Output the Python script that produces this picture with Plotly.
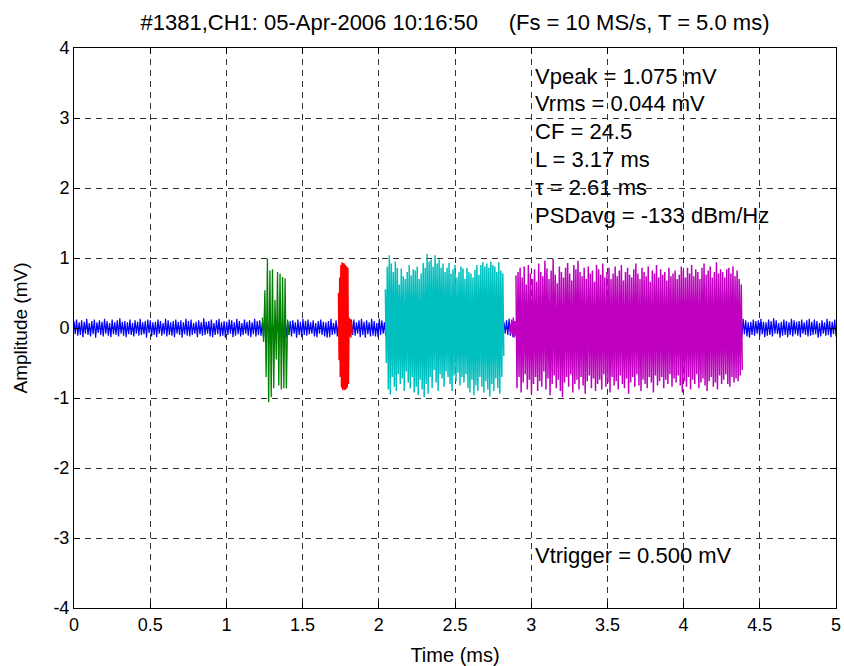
import numpy as np
import plotly.graph_objects as go

# ---------------- data ----------------
TITLE = "#1381,CH1: 05-Apr-2006 10:16:50\u00a0\u00a0\u00a0\u00a0\u00a0(Fs = 10 MS/s, T = 5.0 ms)"
x_ticks = [0, 0.5, 1, 1.5, 2, 2.5, 3, 3.5, 4, 4.5, 5]
y_ticks = [-4, -3, -2, -1, 0, 1, 2, 3, 4]

stats_lines = ["Vpeak = 1.075 mV", "Vrms = 0.044 mV", "CF = 24.5",
               "L = 3.17 ms", "\u03c4 = 2.61 ms", "PSDavg = -133 dBm/Hz"]
stats_y = [3.60, 3.21, 2.81, 2.41, 2.01, 1.61]
stats_x = 3.0
trigger_text = "Vtrigger = 0.500 mV"
trigger_y = -3.25

# background noise (whole record, blue): successive positive / negative excursions (mV)
blue_peaks = [0.10,0.12,0.08,0.11,0.09,0.13,0.07,0.10,0.12,0.08,
              0.11,0.09,0.13,0.10,0.07,0.12,0.08,0.11,0.14,0.09,
              0.10,0.08,0.12,0.07,0.11,0.09,0.13,0.08,0.10,0.12,
              0.11,0.08,0.09,0.12,0.10,0.07,0.13,0.11,0.08,0.10,
              0.12,0.09,0.11,0.08,0.13,0.10,0.12,0.07,0.09,0.11,
              0.08,0.14,0.09,0.10,0.12,0.07,0.11,0.13,0.08,0.10,
              0.09,0.12,0.11,0.08,0.13,0.10,0.07,0.12,0.09,0.11,
              0.08,0.13,0.10,0.11,0.08,0.12,0.09,0.14,0.07,0.12,
              0.10,0.11,0.08,0.13,0.09,0.10,0.11,0.08,0.12,0.09,
              0.13,0.10,0.12,0.08,0.11,0.07,0.10,0.12,0.09,0.08,
              0.10,0.13,0.07,0.11,0.08,0.14,0.11,0.08,0.10,0.12,
              0.12,0.08,0.11,0.13,0.09,0.11,0.08,0.13,0.10,0.07,
              0.13,0.11,0.08,0.10,0.12,0.09,0.11,0.12,0.10,0.14,
              0.09,0.07,0.10,0.13,0.08,0.07,0.12,0.08,0.13,0.10,
              0.11,0.12,0.10,0.09,0.14,0.08,0.11,0.12,0.09,0.14,
              0.09,0.11,0.13,0.08,0.10,0.12,0.07,0.11,0.09,0.14,
              0.10,0.08,0.12,0.11,0.09,0.13,0.10,0.07,0.12,0.08,
              0.11,0.13,0.09,0.10,0.08,0.12,0.11,0.14,0.09,0.10,
              0.12,0.07,0.11,0.09,0.13,0.08,0.10,0.12,0.11,0.09,
              0.08,0.13,0.10,0.12,0.07,0.11,0.09,0.10,0.14,0.08,
              0.12,0.10,0.09,0.11,0.13,0.08,0.10,0.07,0.12,0.11,
              0.09,0.14,0.10,0.08,0.12,0.11,0.13,0.09,0.10,0.07,
              0.11,0.08,0.12,0.10,0.09,0.13,0.11,0.08,0.10,0.12,
              0.14,0.09,0.07,0.11,0.10,0.12,0.08,0.13,0.09,0.11,
              0.10,0.12,0.08,0.09,0.13,0.07,0.11,0.10,0.12,0.14,
              0.08,0.10,0.11,0.09,0.12,0.13,0.10,0.08,0.11,0.09,
              0.12,0.07,0.10,0.13,0.11,0.08,0.09,0.12,0.10,0.11,
              0.13,0.09,0.08,0.12,0.10,0.14,0.11,0.07,0.09,0.12,
              0.10,0.08,0.13,0.11,0.09,0.10,0.12,0.08,0.11,0.13,
              0.09,0.12,0.10,0.07,0.11,0.08,0.13,0.10,0.09,0.12]
blue_troughs = [-0.09,-0.11,-0.10,-0.13,-0.08,-0.10,-0.12,-0.09,-0.14,-0.07,
                -0.10,-0.12,-0.08,-0.11,-0.13,-0.09,-0.10,-0.12,-0.08,-0.11,
                -0.13,-0.09,-0.10,-0.12,-0.08,-0.11,-0.10,-0.09,-0.14,-0.07,
                -0.12,-0.10,-0.13,-0.08,-0.11,-0.09,-0.12,-0.10,-0.11,-0.13,
                -0.08,-0.10,-0.14,-0.09,-0.11,-0.12,-0.10,-0.08,-0.13,-0.09,
                -0.11,-0.10,-0.08,-0.12,-0.13,-0.10,-0.09,-0.12,-0.11,-0.14,
                -0.10,-0.08,-0.13,-0.11,-0.09,-0.12,-0.10,-0.08,-0.11,-0.13,
                -0.09,-0.12,-0.10,-0.11,-0.14,-0.10,-0.09,-0.12,-0.08,-0.11,
                -0.12,-0.09,-0.11,-0.13,-0.10,-0.12,-0.08,-0.14,-0.10,-0.13,
                -0.10,-0.11,-0.09,-0.08,-0.12,-0.13,-0.08,-0.10,-0.12,-0.14,
                -0.13,-0.10,-0.09,-0.12,-0.08,-0.11,-0.10,-0.14,-0.09,-0.10,
                -0.11,-0.08,-0.13,-0.10,-0.14,-0.09,-0.12,-0.11,-0.12,-0.13,
                -0.10,-0.08,-0.12,-0.09,-0.11,-0.10,-0.13,-0.14,-0.09,-0.11,
                -0.08,-0.10,-0.12,-0.11,-0.09,-0.12,-0.13,-0.11,-0.10,-0.09,
                -0.12,-0.08,-0.11,-0.12,-0.13,-0.08,-0.12,-0.11,-0.10,-0.12,
                -0.11,-0.09,-0.12,-0.10,-0.13,-0.08,-0.11,-0.14,-0.10,-0.09,
                -0.12,-0.10,-0.08,-0.13,-0.11,-0.09,-0.12,-0.10,-0.14,-0.08,
                -0.10,-0.11,-0.13,-0.09,-0.12,-0.10,-0.08,-0.11,-0.13,-0.10,
                -0.09,-0.12,-0.14,-0.11,-0.08,-0.10,-0.13,-0.09,-0.12,-0.11,
                -0.10,-0.08,-0.12,-0.13,-0.09,-0.11,-0.10,-0.14,-0.08,-0.12,
                -0.11,-0.09,-0.13,-0.10,-0.12,-0.08,-0.11,-0.10,-0.09,-0.13,
                -0.12,-0.10,-0.08,-0.14,-0.11,-0.09,-0.12,-0.10,-0.13,-0.11,
                -0.09,-0.12,-0.10,-0.08,-0.13,-0.11,-0.14,-0.09,-0.10,-0.12,
                -0.08,-0.11,-0.13,-0.10,-0.09,-0.12,-0.11,-0.08,-0.14,-0.10,
                -0.12,-0.09,-0.11,-0.13,-0.10,-0.08,-0.12,-0.11,-0.09,-0.13,
                -0.10,-0.14,-0.08,-0.12,-0.11,-0.09,-0.10,-0.13,-0.12,-0.08,
                -0.11,-0.10,-0.13,-0.09,-0.12,-0.14,-0.10,-0.11,-0.08,-0.12,
                -0.09,-0.13,-0.11,-0.10,-0.12,-0.08,-0.09,-0.14,-0.11,-0.10,
                -0.13,-0.10,-0.12,-0.09,-0.11,-0.13,-0.08,-0.10,-0.12,-0.11,
                -0.10,-0.09,-0.14,-0.12,-0.08,-0.11,-0.10,-0.13,-0.09,-0.12]
blue_span = (0.0, 5.0)

# burst 1 (green)
green_peaks = [0.15, 0.54, 0.99, 0.82, 0.84, 0.40, 0.80, 0.78, 0.73, 0.71, 0.12]
green_troughs = [-0.20, -0.70, -1.06, -0.99, -0.86, -0.45, -0.82, -0.88, -0.86, -0.86, -0.10]
green_span = (1.236, 1.41)

# burst 2 (red)
red_peaks = [0.50, 0.72, 0.90, 0.94, 0.93, 0.92, 0.90, 0.88, 0.86, 0.15, 0.13, 0.10]
red_troughs = [-0.46, -0.70, -0.85, -0.89, -0.88, -0.89, -0.87, -0.85, -0.80, -0.12, -0.14, -0.08]
red_span = (1.735, 1.825)

# burst 3 (cyan)
cyan_peaks = [0.55,0.88,1.04,0.92,0.80,0.95,0.86,0.62,0.85,0.74,
              0.70,0.80,0.90,0.75,0.84,0.82,0.88,0.70,0.78,0.93,
              0.86,1.06,0.95,0.98,0.88,1.04,0.92,0.98,0.86,0.92,
              0.80,0.86,0.93,0.78,0.84,0.90,0.72,0.80,0.88,0.85,
              0.70,0.86,0.80,0.78,0.72,0.83,0.90,0.76,0.90,0.94,
              0.88,0.92,0.86,0.95,0.90,0.88,0.80,0.94,0.82,0.78]
cyan_troughs = [-0.50,-0.88,-0.95,-0.70,-0.84,-0.90,-0.66,-0.80,-0.72,-0.90,
                -0.62,-0.78,-0.86,-0.70,-0.92,-0.84,-0.96,-0.74,-0.88,-0.99,
                -0.80,-0.94,-0.70,-0.86,-0.60,-0.78,-0.90,-0.66,-0.72,-0.84,
                -0.62,-0.70,-0.80,-0.90,-0.68,-0.76,-0.64,-0.82,-0.70,-0.78,
                -0.66,-0.86,-0.92,-0.74,-0.96,-0.82,-0.90,-0.70,-0.84,-0.92,
                -0.76,-0.88,-0.98,-0.80,-0.90,-0.72,-0.86,-0.94,-0.70,-0.40]
cyan_span = (2.043, 2.82)

# burst 4 (magenta): low-level lead-in, then main burst
magenta_lead_peaks = [0.05, 0.12, 0.15, 0.10]
magenta_lead_troughs = [-0.08, -0.10, -0.14, -0.12]
magenta_lead_span = (2.86, 2.90)
magenta_peaks = [0.75,0.80,0.86,0.72,0.88,0.62,0.90,0.78,0.70,0.84,
                 0.66,0.92,0.80,0.74,0.96,0.85,0.70,0.82,0.99,0.76,
                 0.64,0.88,0.80,0.72,0.86,0.93,0.78,0.68,0.90,0.84,
                 0.96,0.80,0.74,0.86,0.70,0.88,0.78,0.82,0.66,0.90,
                 0.84,0.76,0.92,0.72,0.80,0.86,0.70,0.78,0.88,0.74,
                 0.82,0.90,0.68,0.80,0.86,0.76,0.72,0.84,0.92,0.78,
                 0.70,0.86,0.80,0.74,0.88,0.66,0.82,0.78,0.90,0.72,
                 0.84,0.76,0.80,0.68,0.86,0.74,0.78,0.82,0.70,0.76,
                 0.88,0.82,0.72,0.86,0.78,0.90,0.74,0.84,0.80,0.70,
                 0.86,0.92,0.76,0.82,0.88,0.72,0.80,0.94,0.78,0.84,
                 0.80,0.72,0.84,0.86,0.78,0.88,0.74,0.82,0.70,0.62]
magenta_troughs = [-0.86,-0.70,-0.92,-0.78,-0.66,-0.88,-0.74,-0.94,-0.80,-0.70,
                   -0.90,-0.76,-0.84,-0.62,-0.88,-0.72,-0.96,-0.80,-0.68,-0.86,
                   -0.74,-0.90,-0.99,-0.78,-0.70,-0.84,-0.66,-0.92,-0.80,-0.74,
                   -0.88,-0.70,-0.82,-0.94,-0.76,-0.68,-0.86,-0.72,-0.90,-0.80,
                   -0.74,-0.88,-0.66,-0.84,-0.78,-0.92,-0.70,-0.82,-0.76,-0.88,
                   -0.68,-0.80,-0.86,-0.72,-0.94,-0.78,-0.70,-0.84,-0.66,-0.82,
                   -0.90,-0.74,-0.80,-0.86,-0.70,-0.78,-0.92,-0.68,-0.82,-0.76,
                   -0.70,-0.86,-0.74,-0.80,-0.66,-0.84,-0.72,-0.78,-0.68,-0.82,
                   -0.92,-0.76,-0.84,-0.70,-0.88,-0.74,-0.80,-0.66,-0.86,-0.78,
                   -0.72,-0.82,-0.90,-0.76,-0.70,-0.84,-0.78,-0.88,-0.68,-0.80,
                   -0.74,-0.66,-0.80,-0.84,-0.70,-0.78,-0.72,-0.76,-0.68,-0.60]
magenta_span = (2.90, 4.385)

# ---------------- figure ----------------
FONT = "Liberation Sans, Arial, Helvetica, sans-serif"


def trace(peaks, troughs, span, color, width):
    y = []
    for p, t in zip(peaks, troughs):
        y.extend([p, t])
    x = np.linspace(span[0], span[1], len(y))
    return go.Scatter(x=x, y=y, mode="lines", line=dict(color=color, width=width),
                      hoverinfo="skip", showlegend=False)


fig = go.Figure()
fig.add_trace(trace(blue_peaks, blue_troughs, blue_span, "#0000FF", 1.2))
fig.add_trace(trace(green_peaks, green_troughs, green_span, "#008000", 1.3))
fig.add_trace(trace(red_peaks, red_troughs, red_span, "#FF0000", 1.3))
fig.add_trace(trace(cyan_peaks, cyan_troughs, cyan_span, "#00BFBF", 1.5))
fig.add_trace(trace(magenta_lead_peaks, magenta_lead_troughs, magenta_lead_span, "#BF00BF", 1.3))
fig.add_trace(trace(magenta_peaks, magenta_troughs, magenta_span, "#BF00BF", 1.5))

for txt, yy in zip(stats_lines, stats_y):
    fig.add_annotation(x=stats_x, y=yy, xref="x", yref="y", text=txt, showarrow=False,
                       xanchor="left", yanchor="middle", xshift=2,
                       font=dict(family=FONT, size=22, color="black"))
fig.add_annotation(x=stats_x, y=trigger_y, xref="x", yref="y", text=trigger_text,
                   showarrow=False, xanchor="left", yanchor="middle", xshift=2,
                   font=dict(family=FONT, size=22, color="black"))

axis_common = dict(showline=True, linecolor="black", linewidth=1, mirror="ticks",
                   ticks="inside", ticklen=6, tickcolor="black", tickwidth=1,
                   showgrid=True, gridcolor="#333333", gridwidth=1, griddash="6px,5px",
                   zeroline=False, layer="above traces", automargin=False,
                   tickfont=dict(family=FONT, size=18, color="black"))

fig.update_layout(
    width=844, height=666,
    margin=dict(l=74, r=8, t=48, b=58),
    paper_bgcolor="white", plot_bgcolor="white",
    font=dict(family=FONT, color="black"),
    title=dict(text=TITLE, x=0.5, xref="paper", xanchor="center",
               y=1 - 22 / 666, yref="container", yanchor="middle",
               font=dict(family=FONT, size=22, color="black")),
    xaxis=dict(range=[0, 5], tickvals=x_ticks, ticktext=[f"{v:g}" for v in x_ticks],
               title=dict(text="Time (ms)", font=dict(family=FONT, size=20), standoff=14),
               **axis_common),
    yaxis=dict(range=[-4, 4], tickvals=y_ticks, ticktext=[f"{v:g}" for v in y_ticks],
               title=dict(text="Amplitude (mV)", font=dict(family=FONT, size=19), standoff=20),
               **axis_common),
)

fig.write_html("out.html")
